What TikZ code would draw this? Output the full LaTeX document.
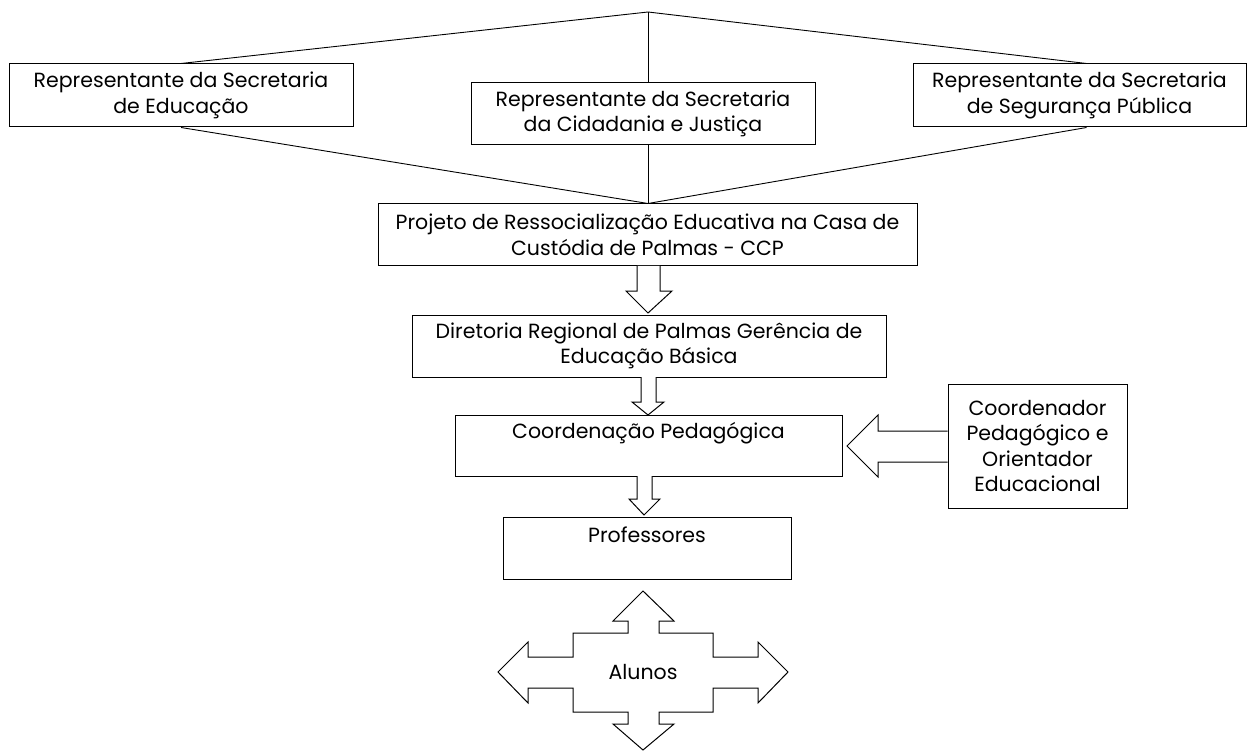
\documentclass[tikz,border=0pt]{standalone}
\usepackage{fontspec}
\setmainfont{Poppins}
\usetikzlibrary{calc}
\begin{document}
\begin{tikzpicture}[x=1pt,y=-1pt,
  box/.style={draw, line width=1pt, align=center, inner sep=0pt, font=\fontsize{20.5}{25.5}\selectfont},
  txt/.style={align=center, inner sep=0pt, font=\fontsize{20.5}{25.5}\selectfont},
  blk/.style={draw, line width=1pt, line join=miter, fill=white},
  fan/.style={draw, line width=0.9pt}]
\useasboundingbox (0,0) rectangle (1247,751);
% top boxes
\node[box, minimum width=344pt, minimum height=63pt] (b1) at (181,95.5) {Representante da Secretaria\\de Educação};
\node[box, minimum width=344pt, minimum height=62pt] (b2) at (643,114) {Representante da Secretaria\\da Cidadania e Justiça};
\node[box, minimum width=333pt, minimum height=63pt] (b3) at (1079.5,95.5) {Representante da Secretaria\\de Segurança Pública};
\node[box, minimum width=539pt, minimum height=62pt] (proj) at (647.5,235) {Projeto de Ressocialização Educativa na Casa de\\Custódia de Palmas - CCP};
\coordinate (apex) at (648,12);
\coordinate (bot) at (apex |- proj.north);
\draw[fan] (b1.north) -- (apex) -- ($(b3.north)+(7,0)$);
\draw[fan] (b1.south) -- (bot) -- ($(b3.south)+(7,0)$);
\draw[fan] (apex) -- (apex |- b2.north);
\draw[fan] (apex |- b2.south) -- (bot);
% chain
\node[box, minimum width=474pt, minimum height=62pt] (dir) at (649,346) {Diretoria Regional de Palmas Gerência de\\Educação Básica};
\node[box, minimum width=387pt, minimum height=61pt] (coord) at (648.5,445.5) {};
\node[txt] (coordt) at (648.5,433) {Coordenação Pedagógica};
\node[box, minimum width=288pt, minimum height=62pt] (prof) at (647,548) {};
\node[txt] (proft) at (647,535) {Professores};
\node[box, minimum width=179pt, minimum height=124pt] (orient) at (1037.5,446) {Coordenador\\Pedagógico e\\Orientador\\Educacional};
% block arrows
\draw[blk] (637,266) -- (637,291) -- (626,291) -- (648,313) -- (672,291) -- (660,291) -- (660,266);
\draw[blk] (641,377) -- (641,402) -- (632,402) -- (648,415) -- (664,402) -- (656,402) -- (656,377);
\draw[blk] (637,476) -- (637,499) -- (629,499) -- (644,515) -- (660,499) -- (652,499) -- (652,476);
\draw[blk] (orient.west |- 0,431) -- (878,431) -- (878,415) -- (847,446) -- (878,477) -- (878,462) -- (orient.west |- 0,462);
% quad arrow
\draw[blk] (643,591) -- (674,621) -- (659,621) -- (659,633) -- (713,633) -- (713,657) -- (758,657) -- (758,642) -- (788,672) -- (758,703) -- (758,688) -- (713,688) -- (713,712) -- (659,712) -- (659,724) -- (674,724) -- (643,750) -- (613,724) -- (628,724) -- (628,712) -- (573,712) -- (573,688) -- (528,688) -- (528,703) -- (498,672) -- (528,642) -- (528,657) -- (573,657) -- (573,633) -- (628,633) -- (628,621) -- (613,621) -- cycle;
\node[txt] (alunos) at (643,672) {Alunos};
\end{tikzpicture}
\end{document}
